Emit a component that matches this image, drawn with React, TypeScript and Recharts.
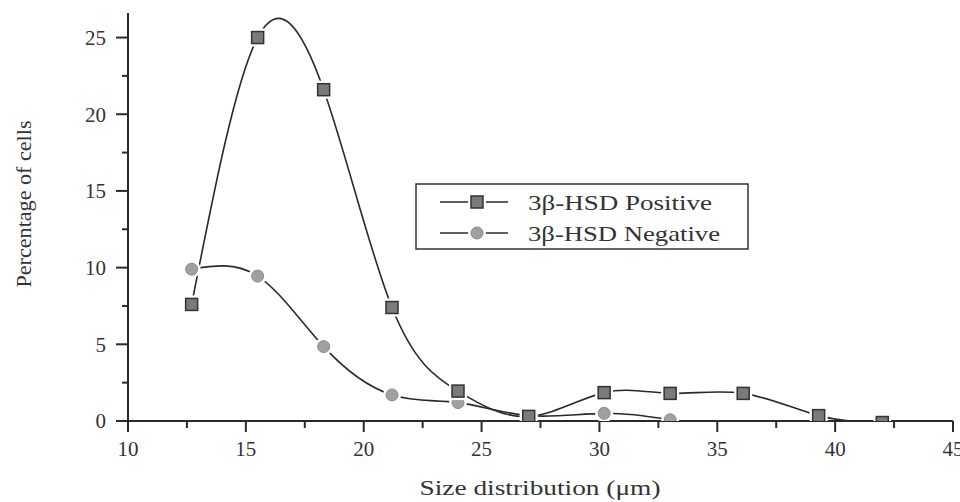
import { LineChart, Line, XAxis, YAxis } from 'recharts';

const positiveX = [12.7, 15.5, 18.3, 21.2, 24.0, 27.0, 30.2, 33.0, 36.1, 39.3, 42.0];
const positiveY = [7.6, 25.0, 21.6, 7.4, 1.95, 0.3, 1.85, 1.8, 1.8, 0.35, -0.1];
const negativeX = [12.7, 15.5, 18.3, 21.2, 24.0, 27.0, 30.2, 33.0];
const negativeY = [9.9, 9.45, 4.85, 1.7, 1.2, 0.35, 0.5, 0.08];

const xTicks = [10, 12.5, 15, 17.5, 20, 22.5, 25, 27.5, 30, 32.5, 35, 37.5, 40, 42.5, 45];
const yTicks = [0, 2.5, 5, 7.5, 10, 12.5, 15, 17.5, 20, 22.5, 25];

const positive = positiveX.map((x, i) => ({ x, y: positiveY[i] }));
const negative = negativeX.map((x, i) => ({ x, y: negativeY[i] }));

const FONT = '"Liberation Serif", "Times New Roman", serif';
const INK = '#2a2a2a';

const isMajor = (v: number) => v % 5 === 0;

const XTick = (props: any) => {
  const { x, y, payload } = props;
  const major = isMajor(payload.value);
  return (
    <g>
      <line x1={x} x2={x} y1={y} y2={y + (major ? 11 : 7)} stroke={INK} strokeWidth={2} />
      {major && (
        <text x={x} y={y + 35} textAnchor="middle" fontFamily={FONT} fontSize={21} fill="#333">
          {payload.value}
        </text>
      )}
    </g>
  );
};

const YTick = (props: any) => {
  const { x, y, payload } = props;
  const major = isMajor(payload.value);
  return (
    <g>
      <line x1={x} x2={x - (major ? 12 : 6)} y1={y} y2={y} stroke={INK} strokeWidth={2} />
      {major && (
        <text x={x - 22} y={y} dy="0.35em" textAnchor="end" fontFamily={FONT} fontSize={21} fill="#333">
          {payload.value}
        </text>
      )}
    </g>
  );
};

const SquareDot = (props: any) => {
  const { cx, cy } = props;
  if (cx == null || cy == null) return null;
  return (
    <g>
      <rect x={cx - 9} y={cy - 9} width={18} height={18} fill="#fff" />
      <rect x={cx - 6} y={cy - 6} width={12} height={12} fill="#7a7a7a" stroke="#333" strokeWidth={1.5} />
    </g>
  );
};

const CircleDot = (props: any) => {
  const { cx, cy } = props;
  if (cx == null || cy == null) return null;
  return (
    <g>
      <circle cx={cx} cy={cy} r={9} fill="#fff" />
      <circle cx={cx} cy={cy} r={6} fill="#a0a0a0" stroke="#8a8a8a" strokeWidth={1} />
    </g>
  );
};

const LegendBox = () => (
  <svg width={334} height={67} style={{ display: 'block' }}>
    <rect x={1} y={1} width={332} height={65} fill="#fff" stroke="#333" strokeWidth={1.5} />
    <line x1={25} x2={93} y1={19} y2={19} stroke={INK} strokeWidth={1.5} />
    <SquareDot cx={62} cy={19} />
    <text x={113} y={26.5} fontFamily={FONT} fontSize={22} fill="#333" textLength={184} lengthAdjust="spacingAndGlyphs">
      3β-HSD Positive
    </text>
    <line x1={25} x2={93} y1={50} y2={50} stroke={INK} strokeWidth={1.5} />
    <CircleDot cx={62} cy={50} />
    <text x={113} y={57.5} fontFamily={FONT} fontSize={22} fill="#333" textLength={192} lengthAdjust="spacingAndGlyphs">
      3β-HSD Negative
    </text>
  </svg>
);

export default function App() {
  return (
    <div style={{ position: 'absolute', left: 0, top: 0, width: 960, height: 502, background: '#fff', overflow: 'hidden' }}>
      <LineChart width={960} height={502} margin={{ top: 13, right: 7, left: 0, bottom: 0 }}>
        <XAxis
          type="number"
          dataKey="x"
          domain={[10, 45]}
          ticks={xTicks}
          interval={0}
          allowDataOverflow
          height={81}
          tickSize={0}
          tickMargin={0}
          tick={<XTick />}
          axisLine={{ stroke: INK, strokeWidth: 2 }}
          label={{
            content: () => (
              <text x={540} y={495} textAnchor="middle" fontFamily={FONT} fontSize={22} fill="#333" textLength={241} lengthAdjust="spacingAndGlyphs">
                Size distribution (μm)
              </text>
            ),
          }}
        />
        <YAxis
          type="number"
          dataKey="y"
          domain={[0, 26.6]}
          ticks={yTicks}
          interval={0}
          allowDataOverflow
          width={128}
          tickSize={0}
          tickMargin={0}
          tick={<YTick />}
          axisLine={{ stroke: INK, strokeWidth: 2 }}
          label={{
            content: () => (
              <text
                transform="translate(31, 204) rotate(-90)"
                textAnchor="middle"
                fontFamily={FONT}
                fontSize={22}
                fill="#333"
                textLength={167}
                lengthAdjust="spacingAndGlyphs"
              >
                Percentage of cells
              </text>
            ),
          }}
        />
        <Line
          data={negative}
          dataKey="y"
          name="3β-HSD Negative"
          type="natural"
          stroke={INK}
          strokeWidth={1.6}
          dot={<CircleDot />}
          activeDot={false}
          isAnimationActive={false}
        />
        <Line
          data={positive}
          dataKey="y"
          name="3β-HSD Positive"
          type="natural"
          stroke={INK}
          strokeWidth={1.6}
          dot={<SquareDot />}
          activeDot={false}
          isAnimationActive={false}
        />
      </LineChart>
      <div style={{ position: 'absolute', left: 415, top: 183 }}>
        <LegendBox />
      </div>
    </div>
  );
}
